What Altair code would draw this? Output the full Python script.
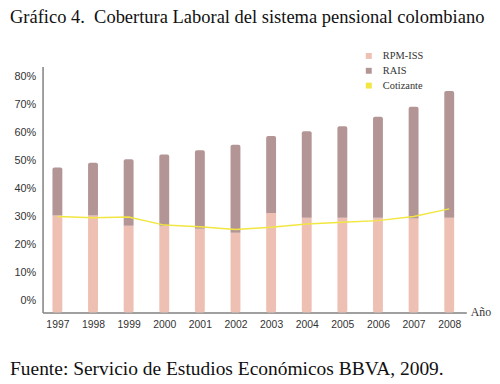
import altair as alt
import pandas as pd

years = [1997, 1998, 1999, 2000, 2001, 2002, 2003, 2004, 2005, 2006, 2007, 2008]
rpm_iss = [0.303, 0.303, 0.267, 0.267, 0.256, 0.242, 0.312, 0.295, 0.295, 0.295, 0.293, 0.295]
total_rais = [0.475, 0.492, 0.504, 0.521, 0.536, 0.556, 0.587, 0.604, 0.622, 0.656, 0.692, 0.748]
cotizante = [0.300, 0.295, 0.298, 0.269, 0.263, 0.253, 0.261, 0.273, 0.279, 0.285, 0.300, 0.327]
series_names = ["RPM-ISS", "RAIS", "Cotizante"]
series_colors = ["#eec0b3", "#b39595", "#f2e640"]
y_ticks = [0, 0.1, 0.2, 0.3, 0.4, 0.5, 0.6, 0.7, 0.8]
title_text = "Gráfico 4.\u00a0 Cobertura Laboral del sistema pensional colombiano"
source_text = "Fuente: Servicio de Estudios Económicos BBVA, 2009."
x_title = "Año"

Y_MIN = -0.0434
Y_MAX = 0.8353
X_MIN = 1996.584
X_MAX = 2008.48

W, H = 429, 249

df = pd.DataFrame({
    "year": years,
    "rpm": rpm_iss,
    "total": total_rais,
    "cot": cotizante,
})
df["base"] = Y_MIN
df["s_rpm"] = series_names[0]
df["s_rais"] = series_names[1]
df["s_cot"] = series_names[2]

color_scale = alt.Scale(domain=series_names, range=series_colors)

x_axis = alt.Axis(
    values=years, format="d", title=x_title, grid=False, ticks=False,
    domainColor="#808080", domainWidth=1.5, labelFont="Liberation Sans",
    labelFontSize=10.5, labelColor="#333333", labelPadding=7,
    labelOverlap=False, labelFlush=False,
    titleFont="Liberation Serif", titleFontSize=12, titleFontWeight="normal",
    titleColor="#333333", titleAlign="left",
    titleBaseline="middle", titleX=W + 4, titleY=-1,
)
x_scale = alt.Scale(domain=[X_MIN, X_MAX], nice=False, zero=False, padding=0)
x_enc = alt.X("year:Q", scale=x_scale, axis=x_axis)

y_axis = alt.Axis(
    values=y_ticks, format=".0%", title=None, grid=False, ticks=False,
    domainColor="#808080", domainWidth=1.5, labelFont="Liberation Sans",
    labelFontSize=11, labelColor="#333333", labelPadding=7,
    labelOverlap=False, labelFlush=False,
)
y_scale = alt.Scale(domain=[Y_MIN, Y_MAX], nice=False, zero=False, padding=0)

legend = alt.Legend(
    title=None, orient="none", legendX=325, legendY=-16, symbolType="square",
    symbolSize=36, symbolStrokeWidth=0, labelFont="Liberation Serif",
    labelFontSize=10.5, labelColor="#333333", rowPadding=4, labelOffset=9,
    padding=0,
)

rpm_bar = alt.Chart(df).mark_bar(
    size=10, cornerRadiusBottomLeft=2, cornerRadiusBottomRight=2
).encode(
    x=x_enc,
    y=alt.Y("rpm:Q", scale=y_scale, axis=y_axis),
    y2="base:Q",
    color=alt.Color("s_rpm:N", scale=color_scale, legend=legend),
)

rais_bar = alt.Chart(df).mark_bar(
    size=10, cornerRadiusTopLeft=2, cornerRadiusTopRight=2
).encode(
    x=x_enc,
    y=alt.Y("total:Q", scale=y_scale, axis=y_axis),
    y2="rpm:Q",
    color=alt.Color("s_rais:N", scale=color_scale, legend=legend),
)

cot_line = alt.Chart(df).mark_line(strokeWidth=1.5).encode(
    x=x_enc,
    y=alt.Y("cot:Q", scale=y_scale, axis=y_axis),
    color=alt.Color("s_cot:N", scale=color_scale, legend=legend),
)

title_df = pd.DataFrame({"t": [title_text]})
source_df = pd.DataFrame({"t": [source_text]})

title_mark = alt.Chart(title_df).mark_text(
    align="left", baseline="alphabetic", font="Liberation Serif",
    fontSize=18.7, color="#111111",
).encode(x=alt.value(-33), y=alt.value(-44), text="t:N")

source_mark = alt.Chart(source_df).mark_text(
    align="left", baseline="alphabetic", font="Liberation Serif",
    fontSize=19.7, color="#111111",
).encode(x=alt.value(-33), y=alt.value(312), text="t:N")

chart = alt.layer(rpm_bar, rais_bar, cot_line, title_mark, source_mark).properties(
    width=W, height=H,
    autosize=alt.AutoSizeParams(type="none"),
    padding={"left": 35, "top": 57, "right": 26, "bottom": 68},
    background="white",
).configure_view(stroke=None).configure_axis(labelOverlap=False)

chart.save("out.html", embed_options={"renderer": "svg", "actions": False})
